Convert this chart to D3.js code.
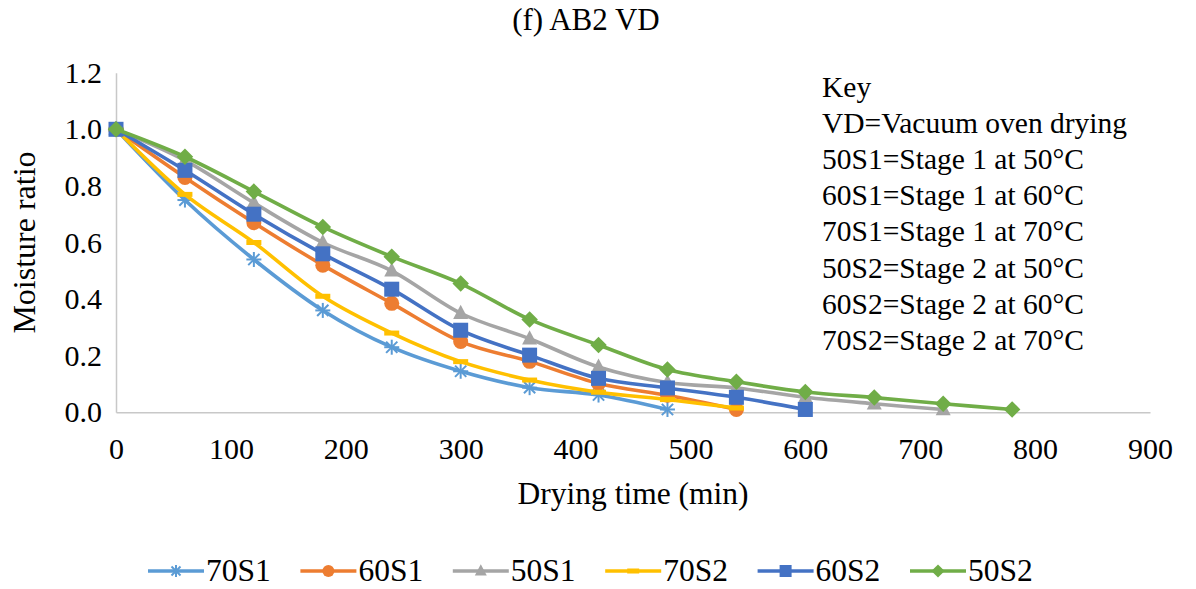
<!DOCTYPE html>
<html>
<head>
<meta charset="utf-8">
<script src="https://cdn.jsdelivr.net/npm/d3@7/dist/d3.min.js"></script>
<style>
  html, body { margin: 0; padding: 0; background: #fff; }
  svg { display: block; }
  svg text { font-family: "Liberation Serif", "Times New Roman", serif; fill: #000; }
</style>
</head>
<body>
<svg id="chart" width="1196" height="589"></svg>
<script>
// Drying time in minutes (every 60 min) and moisture ratio per run
const timeMin = [0, 60, 120, 180, 240, 300, 360, 420, 480, 540, 600, 660, 720, 780];

const mr70S1 = [1.0, 0.75, 0.54, 0.36, 0.23, 0.145, 0.087, 0.061, 0.01];
const mr60S1 = [1.0, 0.83, 0.67, 0.52, 0.385, 0.25, 0.18, 0.102, 0.06, 0.01];
const mr50S1 = [1.0, 0.89, 0.74, 0.60, 0.50, 0.35, 0.26, 0.16, 0.105, 0.086, 0.053, 0.03, 0.01];
const mr70S2 = [1.0, 0.77, 0.60, 0.41, 0.28, 0.179, 0.114, 0.071, 0.045, 0.015];
const mr60S2 = [1.0, 0.855, 0.70, 0.56, 0.435, 0.29, 0.202, 0.12, 0.086, 0.053, 0.01];
const mr50S2 = [1.0, 0.903, 0.78, 0.655, 0.55, 0.455, 0.328, 0.238, 0.151, 0.108, 0.072, 0.052, 0.03, 0.01];

const seriesNames = ["70S1", "60S1", "50S1", "70S2", "60S2", "50S2"];
const seriesValues = [mr70S1, mr60S1, mr50S1, mr70S2, mr60S2, mr50S2];
const seriesColors = ["#5B9BD5", "#ED7D31", "#A5A5A5", "#FFC000", "#4472C4", "#70AD47"];
const seriesMarkers = ["asterisk", "circle", "triangle", "dash", "square", "diamond"];

const xTicks = [0, 100, 200, 300, 400, 500, 600, 700, 800, 900];
const yTicks = [0.0, 0.2, 0.4, 0.6, 0.8, 1.0, 1.2];

const keyLines = [
  "Key",
  "VD=Vacuum oven drying",
  "50S1=Stage 1 at 50°C",
  "60S1=Stage 1 at 60°C",
  "70S1=Stage 1 at 70°C",
  "50S2=Stage 2 at 50°C",
  "60S2=Stage 2 at 60°C",
  "70S2=Stage 2 at 70°C"
];

const svg = d3.select("#chart");
const plot = { left: 116, right: 1150, top: 72.7, bottom: 412.3 };

const x = d3.scaleLinear().domain([0, 900]).range([plot.left, plot.right]);
const y = d3.scaleLinear().domain([0, 1.2]).range([plot.bottom, plot.top]);

const axisColor = "#C8C8C8";
const tickFont = 30;

// Title
svg.append("text")
  .attr("x", 586).attr("y", 30)
  .attr("text-anchor", "middle")
  .attr("font-size", 31)
  .text("(f) AB2 VD");

// Axes (lines only, no tick marks)
const xAxis = d3.axisBottom(x).tickValues(xTicks).tickSize(0).tickPadding(25.5).tickFormat(d3.format("d"));
const gx = svg.append("g").attr("transform", `translate(0,${plot.bottom})`).call(xAxis);
gx.select(".domain").attr("stroke", axisColor).attr("stroke-width", 1.5);
gx.selectAll("text").attr("font-size", tickFont);

const yAxis = d3.axisLeft(y).tickValues(yTicks).tickSize(0).tickPadding(14).tickFormat(d3.format(".1f"));
const gy = svg.append("g").attr("transform", `translate(${plot.left},0)`).call(yAxis);
gy.select(".domain").attr("stroke", axisColor).attr("stroke-width", 1.5);
gy.selectAll("text").attr("font-size", tickFont);

// Axis titles
svg.append("text")
  .attr("x", (plot.left + plot.right) / 2).attr("y", 504)
  .attr("text-anchor", "middle")
  .attr("font-size", 31.5)
  .text("Drying time (min)");

svg.append("text")
  .attr("transform", `translate(35,${(plot.top + plot.bottom) / 2}) rotate(-90)`)
  .attr("text-anchor", "middle")
  .attr("font-size", 32)
  .text("Moisture ratio");

// Marker drawing helper
function drawMarker(g, type, cx, cy, color, s) {
  switch (type) {
    case "asterisk": {
      const r = s * 0.5;
      const p = g.append("g").attr("transform", `translate(${cx},${cy})`)
        .attr("stroke", color).attr("stroke-width", 2).attr("fill", "none");
      p.append("line").attr("x1", -r).attr("y1", 0).attr("x2", r).attr("y2", 0);
      p.append("line").attr("x1", 0).attr("y1", -r).attr("x2", 0).attr("y2", r);
      p.append("line").attr("x1", -r * 0.75).attr("y1", -r * 0.75).attr("x2", r * 0.75).attr("y2", r * 0.75);
      p.append("line").attr("x1", -r * 0.75).attr("y1", r * 0.75).attr("x2", r * 0.75).attr("y2", -r * 0.75);
      break;
    }
    case "circle":
      g.append("circle").attr("cx", cx).attr("cy", cy).attr("r", s * 0.5).attr("fill", color);
      break;
    case "triangle": {
      const h = s * 0.95, w = s;
      g.append("path")
        .attr("d", `M${cx},${cy - h * 0.6}L${cx + w / 2},${cy + h * 0.4}L${cx - w / 2},${cy + h * 0.4}Z`)
        .attr("fill", color);
      break;
    }
    case "dash":
      g.append("rect").attr("x", cx - s * 0.5).attr("y", cy - 2.5).attr("width", s).attr("height", 5).attr("fill", color);
      break;
    case "square":
      g.append("rect").attr("x", cx - s * 0.5).attr("y", cy - s * 0.5).attr("width", s).attr("height", s).attr("fill", color);
      break;
    case "diamond": {
      const r = s * 0.55;
      g.append("path")
        .attr("d", `M${cx},${cy - r}L${cx + r},${cy}L${cx},${cy + r}L${cx - r},${cy}Z`)
        .attr("fill", color);
      break;
    }
  }
}

// Series lines and markers (smoothed)
const line = d3.line()
  .x(d => x(d[0]))
  .y(d => y(d[1]))
  .curve(d3.curveCardinal.tension(0));

seriesNames.forEach((name, i) => {
  const pts = seriesValues[i].map((v, k) => [timeMin[k], v]);
  const g = svg.append("g").attr("class", "series-" + name);
  g.append("path")
    .attr("d", line(pts))
    .attr("fill", "none")
    .attr("stroke", seriesColors[i])
    .attr("stroke-width", 3.6)
    .attr("stroke-linejoin", "round")
    .attr("stroke-linecap", "round");
  pts.forEach(p => drawMarker(g, seriesMarkers[i], x(p[0]), y(p[1]), seriesColors[i], 15));
});

// Key text block
const key = svg.append("g");
keyLines.forEach((t, i) => {
  key.append("text").attr("x", 822).attr("y", 97 + i * 36.1).attr("font-size", 29.5).text(t);
});

// Legend along the bottom
const legend = svg.append("g");
const legendY = 571;
seriesNames.forEach((name, i) => {
  const lx = 148 + i * 152.4;
  const gi = legend.append("g");
  gi.append("line")
    .attr("x1", lx).attr("y1", legendY).attr("x2", lx + 56).attr("y2", legendY)
    .attr("stroke", seriesColors[i]).attr("stroke-width", 3.6);
  drawMarker(gi, seriesMarkers[i], lx + 28, legendY, seriesColors[i], 12);
  gi.append("text")
    .attr("x", lx + 58).attr("y", legendY + 10)
    .attr("font-size", 31.5)
    .text(name);
});
</script>
</body>
</html>
